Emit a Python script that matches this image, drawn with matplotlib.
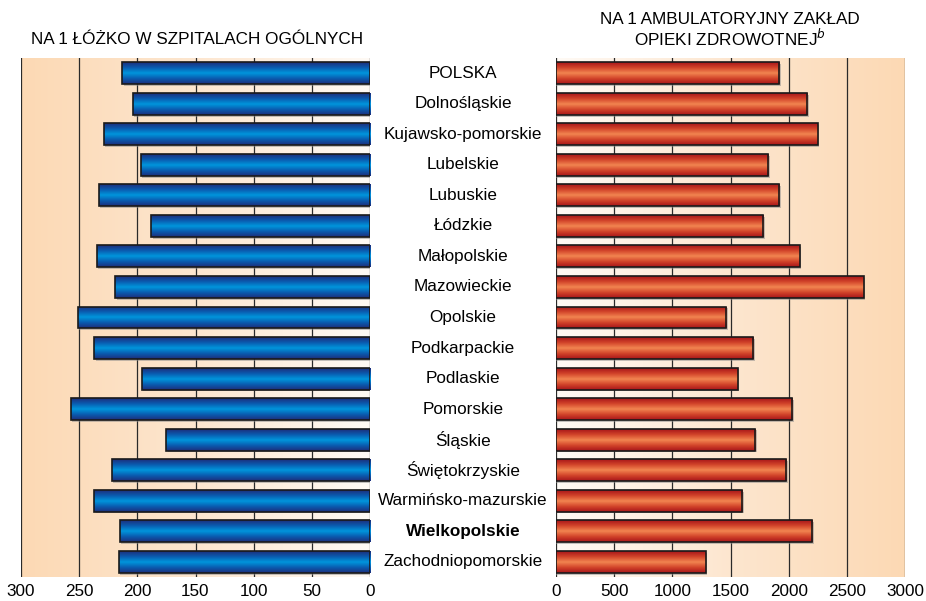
import numpy as np
import matplotlib.pyplot as plt
from matplotlib.colors import LinearSegmentedColormap

plt.rcParams['font.family'] = ['Liberation Sans', 'DejaVu Sans']

# Data
regions = ['POLSKA', 'Dolnośląskie', 'Kujawsko-pomorskie', 'Lubelskie', 'Lubuskie',
           'Łódzkie', 'Małopolskie', 'Mazowieckie', 'Opolskie', 'Podkarpackie',
           'Podlaskie', 'Pomorskie', 'Śląskie', 'Świętokrzyskie',
           'Warmińsko-mazurskie', 'Wielkopolskie', 'Zachodniopomorskie']
per_bed = [213, 204, 229, 197, 233, 188, 235, 219, 251, 237,
           196, 257, 175, 222, 237, 215, 216]
per_clinic = [1920, 2161, 2250, 1826, 1920, 1782, 2095, 2646, 1464, 1696,
              1561, 2032, 1713, 1980, 1601, 2204, 1286]
left_ticks = [300, 250, 200, 150, 100, 50, 0]
right_ticks = [0, 500, 1000, 1500, 2000, 2500, 3000]

peach = '#fcd9b4'
pale = '#fffaf5'
bg_cmap = LinearSegmentedColormap.from_list('bg', [pale, '#fde6cf', peach])
blue_cmap = LinearSegmentedColormap.from_list('blue', ['#1d2f7c', '#0a5cb0', '#0096dc', '#0a5cb0', '#1d2f7c'])
red_cmap = LinearSegmentedColormap.from_list('red', ['#a8161a', '#d2442a', '#f28550', '#d2442a', '#a8161a'])

fs = 12.3

fig = plt.figure(figsize=(9.26, 6.01), dpi=100)
ax_l = fig.add_axes([21 / 926, 1 - 577 / 601, 349 / 926, 519 / 601])
ax_r = fig.add_axes([556 / 926, 1 - 577 / 601, 349 / 926, 519 / 601])

y = np.arange(len(regions))
bar_h = 0.72


def shaded_bars(ax, values, cmap, xmax, reverse):
    # background gradient, peach at the outer edge
    grad = np.linspace(0, 1, 256).reshape(1, -1)
    ext = [xmax, 0, len(regions) - 0.5, -0.5] if reverse else [0, xmax, len(regions) - 0.5, -0.5]
    ax.imshow(grad[:, ::-1] if reverse else grad, cmap=bg_cmap, aspect='auto', extent=ext, zorder=0)
    for t in (left_ticks if reverse else right_ticks):
        ax.axvline(t, color='#2a2a2a', lw=0.9, zorder=1)
    bars = ax.barh(y, values, height=bar_h, color='none', edgecolor='#1a1a1a', lw=1.2, zorder=4)
    vgrad = np.linspace(0, 1, 64).reshape(-1, 1)
    for b in bars:
        x0, y0 = b.get_x(), b.get_y()
        w, h = b.get_width(), b.get_height()
        # soft shadow
        ax.add_patch(plt.Rectangle((x0, y0 + 0.06), w + (-1 if reverse else 1) * xmax * 0.004, h,
                                   color='#8a8a8a', alpha=0.5, zorder=2, lw=0))
        im = ax.imshow(vgrad, cmap=cmap, aspect='auto', extent=[x0, x0 + w, y0 + h, y0], zorder=3)
        im.set_clip_path(b)
    ax.set_xlim(xmax, 0) if reverse else ax.set_xlim(0, xmax)
    ax.set_ylim(len(regions) - 0.5, -0.5)
    for s in ax.spines.values():
        s.set_visible(False)
    ax.set_yticks([])
    ax.tick_params(axis='x', length=0, pad=5, labelsize=fs)


shaded_bars(ax_l, per_bed, blue_cmap, 300, True)
ax_l.set_xticks(left_ticks)
shaded_bars(ax_r, per_clinic, red_cmap, 3000, False)
ax_r.set_xticks(right_ticks)

# category labels in the middle
for i, name in enumerate(regions):
    yy = 1 - (58 + (i + 0.5) * 519 / 17) / 601
    fig.text(463 / 926, yy, name, ha='center', va='center', fontsize=fs,
             fontweight='bold' if name == 'Wielkopolskie' else 'normal')

fig.text(197 / 926, 1 - 40 / 601, 'NA 1 ŁÓŻKO W SZPITALACH OGÓLNYCH', ha='center', va='center', fontsize=fs)
fig.text(730 / 926, 1 - 20 / 601, 'NA 1 AMBULATORYJNY ZAKŁAD', ha='center', va='center', fontsize=fs)
fig.text(730 / 926, 1 - 38 / 601, r'OPIEKI ZDROWOTNEJ$^{\it b}$', ha='center', va='center', fontsize=fs)

fig.savefig('out.png', dpi=100)
